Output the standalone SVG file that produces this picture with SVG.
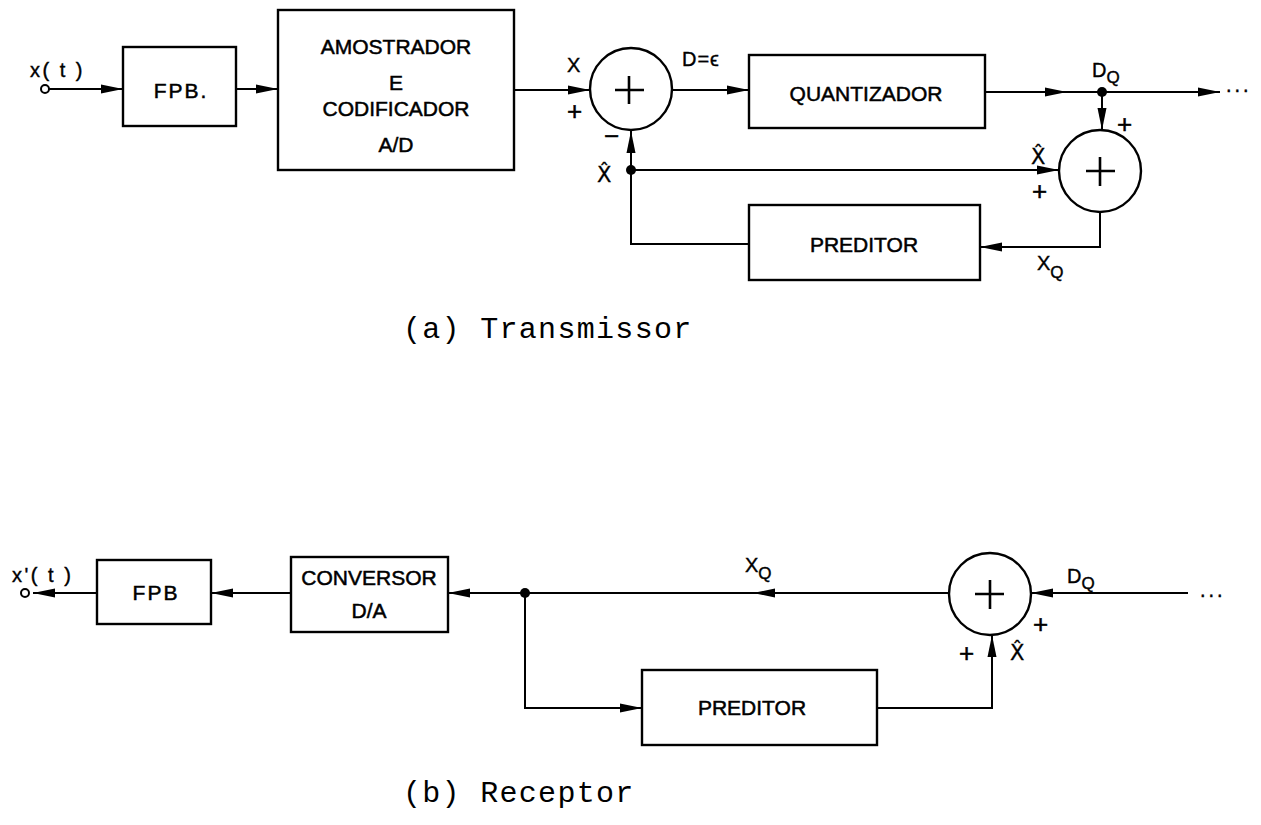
<svg xmlns="http://www.w3.org/2000/svg" width="1261" height="825" viewBox="0 0 1261 825">
<defs>
<marker id="ah" viewBox="0 0 22 10" refX="22" refY="5" markerWidth="22" markerHeight="10" markerUnits="userSpaceOnUse" orient="auto"><path d="M0,0.5 L22,5 L0,9.5 z" fill="#000"/></marker>
</defs>
<style>
.box{fill:#fff;stroke:#000;stroke-width:2.4}
.sum{fill:#fff;stroke:#000;stroke-width:2.4}
.ln{fill:none;stroke:#000;stroke-width:2}
.ar{fill:none;stroke:#000;stroke-width:2;marker-end:url(#ah)}
.pl{fill:none;stroke:#000;stroke-width:2.6}
.lbl{font-family:"Liberation Sans",Arial,sans-serif;font-size:21px;fill:#000;stroke:#000;stroke-width:0.5;text-anchor:middle}
.sm{font-family:"Liberation Sans","DejaVu Sans",Arial,sans-serif;font-size:20px;fill:#000;stroke:#000;stroke-width:0.4}
.plus{font-family:"Liberation Sans",Arial,sans-serif;font-size:26px;fill:#000;stroke:#000;stroke-width:0.5}
.hat{font-family:"DejaVu Sans",sans-serif;font-size:21px;fill:#000;stroke:#000;stroke-width:0.3}
.cap{font-family:"Liberation Mono","Courier New",monospace;font-size:30px;letter-spacing:1.3px;fill:#000}
</style>
<rect width="1261" height="825" fill="#fff"/>

<!-- connectors -->
<g id="connectors">
<!-- transmitter -->
<path class="ar" d="M49,89 H123"/>
<path class="ar" d="M236,89 H278"/>
<path class="ar" d="M514,90 H590"/>
<path class="ar" d="M673,90 H749"/>
<path class="ar" d="M985,92 H1067"/>
<path class="ar" d="M1067,92 H1220"/>
<path class="ar" d="M1102,92 V130"/>
<path class="ar" d="M631,170 H1059"/>
<path class="ar" d="M631,170 V131"/>
<path class="ln" d="M631,170 V244 H749"/>
<path class="ar" d="M1100,212 V247 H980"/>
<circle cx="1102" cy="92" r="5" fill="#000"/>
<circle cx="631" cy="170" r="5" fill="#000"/>
<circle cx="45" cy="89" r="4" fill="#fff" stroke="#000" stroke-width="2"/>
<!-- receiver -->
<path class="ar" d="M97,593 H33"/>
<path class="ar" d="M291,593 H211"/>
<path class="ar" d="M525,593 H448"/>
<path class="ar" d="M949,593 H753"/>
<path class="ln" d="M753,593 H525"/>
<path class="ar" d="M1188,593 H1031"/>
<path class="ar" d="M525,593 V708 H642"/>
<path class="ar" d="M877,708 H992 V635"/>
<circle cx="525" cy="593" r="5" fill="#000"/>
<circle cx="25" cy="593" r="4" fill="#fff" stroke="#000" stroke-width="2"/>
</g>

<!-- transmitter nodes -->
<g id="fpb-tx">
<rect class="box" x="123" y="47" width="113" height="79"/>
<text class="lbl" x="181" y="98" letter-spacing="2" font-size="22">FPB.</text>
</g>
<g id="amostrador">
<rect class="box" x="278" y="10" width="236" height="160"/>
<text class="lbl" x="396" y="54">AMOSTRADOR</text>
<text class="lbl" x="396" y="90">E</text>
<text class="lbl" x="396" y="116">CODIFICADOR</text>
<text class="lbl" x="396" y="152">A/D</text>
</g>
<g id="sum-tx1">
<circle class="sum" cx="631" cy="89" r="41"/>
<path class="pl" d="M615,90 H644 M629,76 V104"/>
</g>
<g id="quantizador">
<rect class="box" x="749" y="55" width="236" height="73"/>
<text class="lbl" x="866" y="101">QUANTIZADOR</text>
</g>
<g id="sum-tx2">
<circle class="sum" cx="1100" cy="171" r="41"/>
<path class="pl" d="M1086,171 H1115 M1100,157 V186"/>
</g>
<g id="preditor-tx">
<rect class="box" x="749" y="205" width="231" height="75"/>
<text class="lbl" x="864" y="252">PREDITOR</text>
</g>

<!-- receiver nodes -->
<g id="fpb-rx">
<rect class="box" x="97" y="560" width="114" height="64"/>
<text class="lbl" x="156" y="600" letter-spacing="2" font-size="22">FPB</text>
</g>
<g id="conversor">
<rect class="box" x="291" y="557" width="157" height="75"/>
<text class="lbl" x="369" y="585">CONVERSOR</text>
<text class="lbl" x="369" y="618">D/A</text>
</g>
<g id="sum-rx">
<circle class="sum" cx="990" cy="594" r="41"/>
<path class="pl" d="M975,594 H1004 M990,580 V609"/>
</g>
<g id="preditor-rx">
<rect class="box" x="642" y="670" width="235" height="75"/>
<text class="lbl" x="752" y="715">PREDITOR</text>
</g>

<!-- labels -->
<g id="labels">
<text class="sm" x="30" y="77" letter-spacing="2.5">x( t )</text>
<text class="sm" x="567" y="72">X</text>
<text class="plus" x="567" y="120">+</text>
<text class="sm" x="682" y="66" font-size="18" letter-spacing="1">D=ϵ</text>
<text class="plus" x="604" y="145">−</text>
<text class="hat" x="597" y="182">X̂</text>
<text class="sm" x="1092" y="77">D<tspan font-size="17" dy="6">Q</tspan></text>
<text class="plus" x="1117" y="133">+</text>
<text class="hat" x="1031" y="164">X̂</text>
<text class="plus" x="1032" y="200">+</text>
<text class="sm" x="1037" y="270">X<tspan font-size="17" dy="8">Q</tspan></text>
<text class="sm" x="1226" y="92" letter-spacing="3">...</text>
<text class="cap" x="403" y="338">(a) Transmissor</text>

<text class="sm" x="12" y="582" letter-spacing="2.5">x'( t )</text>
<text class="sm" x="745" y="572">X<tspan font-size="17" dy="7">Q</tspan></text>
<text class="sm" x="1067" y="583">D<tspan font-size="17" dy="6">Q</tspan></text>
<text class="plus" x="1033" y="633">+</text>
<text class="plus" x="959" y="662">+</text>
<text class="hat" x="1010" y="660">X̂</text>
<text class="sm" x="1200" y="597" letter-spacing="3">...</text>
<text class="cap" x="403" y="802">(b) Receptor</text>
</g>
</svg>
